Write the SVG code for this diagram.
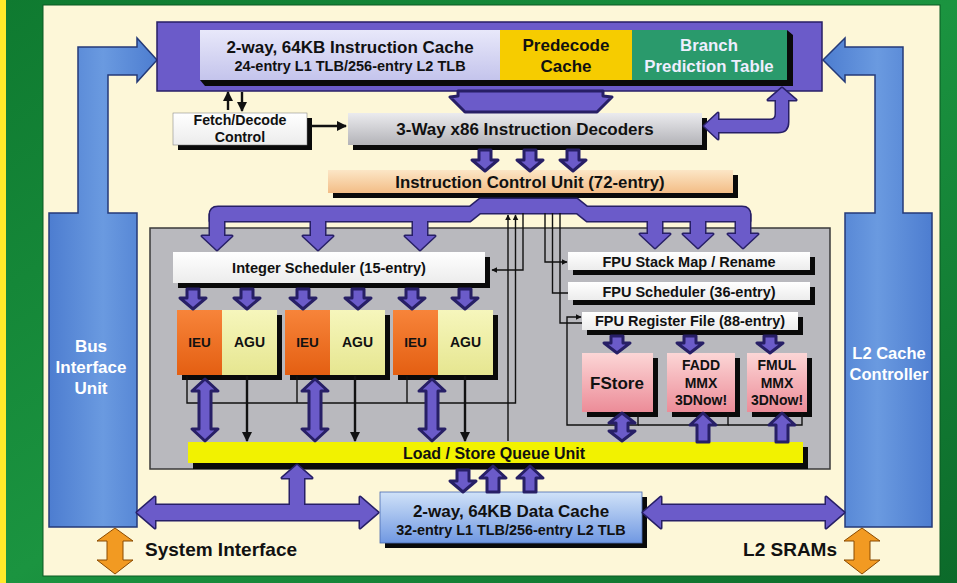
<svg xmlns="http://www.w3.org/2000/svg" xmlns:xlink="http://www.w3.org/1999/xlink" width="957" height="583" viewBox="0 0 957 583">
<defs>
<style>
text{font-family:"Liberation Sans",Arial,sans-serif;font-weight:bold;fill:#111;text-anchor:middle}
.w{fill:#fff}
.sh{fill:#0a0a0a}
.pu{fill:#6b5bc9;stroke:none}
.puo{fill:#6b5bc9;stroke:#271f66;stroke-width:3;stroke-linejoin:round}
.ln{fill:none;stroke:#111;stroke-width:1.4}
.lnb{fill:none;stroke:#111;stroke-width:2.4}
.blue{fill:url(#gBlue);stroke:#243a78;stroke-width:1.5}
.org{fill:#f29a22;stroke:#8a4a00;stroke-width:1}
</style>
<linearGradient id="gBg" x1="0" y1="0" x2="1" y2="1"><stop offset="0" stop-color="#0f7a30"/><stop offset="0.5" stop-color="#1b9440"/><stop offset="1" stop-color="#0c6a2a"/></linearGradient>
<linearGradient id="gIC" x1="0" y1="0" x2="0" y2="1"><stop offset="0" stop-color="#e8e8fa"/><stop offset="1" stop-color="#c4c4ec"/></linearGradient>
<linearGradient id="gDec" x1="0" y1="0" x2="0" y2="1"><stop offset="0" stop-color="#ebebee"/><stop offset="1" stop-color="#b3b3b8"/></linearGradient>
<linearGradient id="gICU" x1="0" y1="0" x2="0" y2="1"><stop offset="0" stop-color="#fce6c6"/><stop offset="1" stop-color="#f3bd86"/></linearGradient>
<linearGradient id="gFPU" x1="0" y1="0" x2="0" y2="1"><stop offset="0" stop-color="#fcd6d6"/><stop offset="1" stop-color="#ec8c98"/></linearGradient>
<linearGradient id="gDC" x1="0" y1="0" x2="0" y2="1"><stop offset="0" stop-color="#d0e2f8"/><stop offset="1" stop-color="#7098e2"/></linearGradient>
<linearGradient id="gBlue" x1="0" y1="0" x2="1" y2="0"><stop offset="0" stop-color="#4d7dd0"/><stop offset="0.5" stop-color="#6a9ae0"/><stop offset="1" stop-color="#4d7dd0"/></linearGradient>
<linearGradient id="gIEU" x1="0" y1="0" x2="0" y2="1"><stop offset="0" stop-color="#f7843a"/><stop offset="1" stop-color="#e45f12"/></linearGradient>
<linearGradient id="gAGU" x1="0" y1="0" x2="0" y2="1"><stop offset="0" stop-color="#f6f6bc"/><stop offset="1" stop-color="#e6e690"/></linearGradient>
<linearGradient id="gW" x1="0" y1="0" x2="0" y2="1"><stop offset="0" stop-color="#ffffff"/><stop offset="1" stop-color="#ececec"/></linearGradient>
<marker id="ah" viewBox="0 0 10 10" refX="9" refY="5" markerWidth="6" markerHeight="6" orient="auto" markerUnits="userSpaceOnUse"><path d="M0,0 L10,5 L0,10 Z" fill="#111"/></marker>
<marker id="ahb" viewBox="0 0 10 10" refX="9" refY="5" markerWidth="10" markerHeight="10" orient="auto" markerUnits="userSpaceOnUse"><path d="M0,0 L10,5 L0,10 Z" fill="#111"/></marker>
<g id="icuBus">
<path d="M210,221 L210,215 Q210,207 218,207 L470,207 L480,199 L577,199 L587,207 L742,207 Q750,207 750,215 L750,221 L587,221 L577,213 L480,213 L470,221 Z"/>
<rect x="210" y="214" width="14" height="23"/><polygon points="202,236 232,236 217,250"/>
<rect x="311" y="214" width="14" height="23"/><polygon points="303,236 333,236 318,250"/>
<rect x="413" y="214" width="14" height="23"/><polygon points="405,236 435,236 420,250"/>
<rect x="648" y="214" width="14" height="21"/><polygon points="640,234 670,234 655,248"/>
<rect x="691" y="214" width="14" height="21"/><polygon points="683,234 713,234 698,248"/>
<rect x="736" y="214" width="14" height="21"/><polygon points="728,234 758,234 743,248"/>
</g>
<g id="brBus">
<path d="M717,120 L770,120 Q776,120 776,114 L776,100 L768,100 L782,88 L796,100 L788,100 L788,122 Q788,132 778,132 L717,132 Z"/>
<polygon points="718,113 718,139 704,126"/>
</g>
<g id="btmBus">
<polygon points="137,512.5 155,497 155,505 360,505 360,497 378,512.5 360,528 360,520 155,520 155,528"/>
<rect x="290" y="476" width="14" height="32"/><polygon points="282,478 312,478 297,465"/>
<polygon points="643,512.5 661,497 661,505 826,505 826,497 844,512.5 826,528 826,520 661,520 661,528"/>
</g>
</defs>

<!-- background -->
<rect x="0" y="0" width="957" height="583" fill="url(#gBg)"/>
<rect x="0" y="0" width="6" height="583" fill="#ffea2a"/>
<rect x="43" y="5" width="897" height="571" fill="#fdf7d8" stroke="#0a5a22" stroke-width="1"/>

<!-- Bus Interface Unit -->
<g id="biu">
<path class="blue" d="M49,213 L78,213 L78,47 L137,47 L137,38 L157,60 L137,82 L137,75 L108,75 L108,213 L137,213 L137,527 L49,527 Z"/>
<text class="w" x="91" y="352" font-size="17">Bus</text>
<text class="w" x="91" y="373" font-size="17">Interface</text>
<text class="w" x="91" y="394" font-size="17">Unit</text>
</g>

<!-- L2 Cache Controller -->
<g id="l2cc">
<path class="blue" d="M932,213 L903,213 L903,47 L845,47 L845,38 L823,60 L845,82 L845,75 L875,75 L875,213 L845,213 L845,527 L932,527 Z"/>
<text class="w" x="889" y="359" font-size="16.5">L2 Cache</text>
<text class="w" x="889" y="380" font-size="16.5">Controller</text>
</g>

<!-- top cache block -->
<g id="icache">
<rect x="157" y="22" width="665" height="69" fill="#6b5bc9" stroke="#271f66" stroke-width="1.5"/>
<polygon class="sh" points="787,30 793,35 793,86 205,86 200,80 787,80"/>
<rect x="200" y="30" width="300" height="50" fill="url(#gIC)"/>
<text x="350" y="53" font-size="17">2-way, 64KB Instruction Cache</text>
<text x="350" y="71" font-size="14.5">24-entry L1 TLB/256-entry L2 TLB</text>
</g>
<g id="predecode">
<rect x="500" y="30" width="132" height="50" fill="#f6cc00"/>
<text x="566" y="51" font-size="17">Predecode</text>
<text x="566" y="72" font-size="17">Cache</text>
</g>
<g id="branch">
<rect x="632" y="30" width="155" height="50" fill="#2a9a6c"/>
<text class="w" x="709" y="51" font-size="16.8" style="fill:#eef">Branch</text>
<text class="w" x="709" y="72" font-size="16.8" style="fill:#eef">Prediction Table</text>
</g>

<!-- gray core -->
<rect id="core" x="150" y="228" width="680" height="241" fill="#b9b9be" stroke="#3a3a3a" stroke-width="1.5"/>

<!-- Fetch/Decode -->
<g id="fetch">
<rect class="sh" x="178" y="118" width="134" height="32"/>
<rect x="173" y="113" width="134" height="32" fill="url(#gW)" stroke="#777" stroke-width="0.5"/>
<text x="240" y="125" font-size="14.2">Fetch/Decode</text>
<text x="240" y="142" font-size="14.2">Control</text>
</g>

<!-- Decoders -->
<g id="decoders">
<rect class="sh" x="353" y="118" width="354" height="32"/>
<rect x="348" y="113" width="354" height="32" fill="url(#gDec)"/>
<text x="525" y="135" font-size="17">3-Way x86 Instruction Decoders</text>
</g>

<!-- ICU -->
<g id="icu">
<rect class="sh" x="333" y="175" width="405" height="23"/>
<rect x="328" y="170" width="405" height="23" fill="url(#gICU)"/>
<text x="530" y="188" font-size="16.8">Instruction Control Unit (72-entry)</text>
</g>

<!-- Integer scheduler -->
<g id="intsched">
<rect class="sh" x="178" y="257" width="312" height="31"/>
<rect x="173" y="252" width="312" height="31" fill="url(#gW)"/>
<text x="329" y="273" font-size="14.6">Integer Scheduler (15-entry)</text>
</g>

<!-- IEU/AGU -->
<g id="ieu1"><rect class="sh" x="182" y="315" width="100" height="65"/><rect x="177" y="310" width="45" height="65" fill="url(#gIEU)"/><text x="199.5" y="347" font-size="13.5">IEU</text></g>
<g id="agu1"><rect x="222" y="310" width="55" height="65" fill="url(#gAGU)"/><text x="249.5" y="347" font-size="14">AGU</text></g>
<g id="ieu2"><rect class="sh" x="290" y="315" width="100" height="65"/><rect x="285" y="310" width="45" height="65" fill="url(#gIEU)"/><text x="307.5" y="347" font-size="13.5">IEU</text></g>
<g id="agu2"><rect x="330" y="310" width="55" height="65" fill="url(#gAGU)"/><text x="357.5" y="347" font-size="14">AGU</text></g>
<g id="ieu3"><rect class="sh" x="398" y="315" width="100" height="65"/><rect x="393" y="310" width="45" height="65" fill="url(#gIEU)"/><text x="415.5" y="347" font-size="13.5">IEU</text></g>
<g id="agu3"><rect x="438" y="310" width="55" height="65" fill="url(#gAGU)"/><text x="465.5" y="347" font-size="14">AGU</text></g>

<!-- FPU -->
<g id="fpustack">
<rect class="sh" x="573" y="257" width="242" height="18"/>
<rect x="568" y="252" width="242" height="18" fill="url(#gW)"/>
<text x="689" y="266.5" font-size="14.5">FPU Stack Map / Rename</text>
</g>
<g id="fpusched">
<rect class="sh" x="573" y="287" width="242" height="18"/>
<rect x="568" y="282" width="242" height="18" fill="url(#gW)"/>
<text x="689" y="296.5" font-size="14.5">FPU Scheduler (36-entry)</text>
</g>
<g id="fpureg">
<rect class="sh" x="587" y="317" width="216" height="18"/>
<rect x="582" y="312" width="216" height="18" fill="url(#gW)"/>
<text x="690" y="326" font-size="14.5">FPU Register File (88-entry)</text>
</g>
<g id="fstore">
<rect class="sh" x="587" y="358" width="71" height="59"/>
<rect x="582" y="353" width="71" height="59" fill="url(#gFPU)"/>
<text x="617" y="389" font-size="17">FStore</text>
</g>
<g id="fadd">
<rect class="sh" x="672" y="358" width="68" height="59"/>
<rect x="667" y="353" width="68" height="59" fill="url(#gFPU)"/>
<text x="701" y="370" font-size="14">FADD</text>
<text x="701" y="388" font-size="14">MMX</text>
<text x="701" y="405" font-size="14">3DNow!</text>
</g>
<g id="fmul">
<rect class="sh" x="752" y="358" width="60" height="59"/>
<rect x="747" y="353" width="60" height="59" fill="url(#gFPU)"/>
<text x="777" y="370" font-size="14">FMUL</text>
<text x="777" y="388" font-size="14">MMX</text>
<text x="777" y="405" font-size="14">3DNow!</text>
</g>

<!-- LSQ -->
<g id="lsq">
<rect class="sh" x="193" y="447" width="615" height="22"/>
<rect x="188" y="442" width="615" height="21" fill="#f2f200"/>
<text x="494" y="458.5" font-size="16">Load / Store Queue Unit</text>
</g>

<!-- Data cache -->
<g id="dcache">
<rect class="sh" x="385" y="497" width="262" height="51"/>
<rect x="380" y="492" width="262" height="51" fill="url(#gDC)" stroke="#4a6ab0" stroke-width="0.8"/>
<text x="511" y="517" font-size="17">2-way, 64KB Data Cache</text>
<text x="511" y="534.5" font-size="14.4">32-entry L1 TLB/256-entry L2 TLB</text>
</g>

<!-- interface labels -->
<g id="sysif">
<polygon class="org" points="115,528 133,541 123,541 123,560 133,560 115,574 97,560 107,560 107,541 97,541"/>
<text x="145" y="556" font-size="19" style="text-anchor:start">System Interface</text>
</g>
<g id="l2sram">
<polygon class="org" points="862,528 880,541 870,541 870,560 880,560 862,574 844,560 854,560 854,541 844,541"/>
<text x="837" y="556" font-size="19" style="text-anchor:end">L2 SRAMs</text>
</g>

<!-- connectors -->
<g id="connectors">
<!-- purple from icache to decoders -->
<polygon class="puo" points="458,91 603,91 603,96 612,97 597,112 465,112 450,97 458,96"/>
<!-- decoders to ICU -->
<g class="puo">
<path d="M479,150 L491,150 L491,160 L498,160 L485,171 L472,160 L479,160 Z"/>
<path d="M524,150 L536,150 L536,160 L543,160 L530,171 L517,160 L524,160 Z"/>
<path d="M567,150 L579,150 L579,160 L586,160 L573,171 L560,160 L567,160 Z"/>
</g>
<!-- decoders to branch -->
<use xlink:href="#brBus" href="#brBus" class="puo"/>
<use xlink:href="#brBus" href="#brBus" class="pu"/>
<!-- ICU bus -->
<use xlink:href="#icuBus" href="#icuBus" class="puo"/>
<use xlink:href="#icuBus" href="#icuBus" class="pu"/>
<!-- scheduler to units -->
<g class="puo">
<path d="M187,289 L199,289 L199,298 L206,298 L193,309 L180,298 L187,298 Z"/>
<path d="M241,289 L253,289 L253,298 L260,298 L247,309 L234,298 L241,298 Z"/>
<path d="M297,289 L309,289 L309,298 L316,298 L303,309 L290,298 L297,298 Z"/>
<path d="M352,289 L364,289 L364,298 L371,298 L358,309 L345,298 L352,298 Z"/>
<path d="M406,289 L418,289 L418,298 L425,298 L412,309 L399,298 L406,298 Z"/>
<path d="M459,289 L471,289 L471,298 L478,298 L465,309 L452,298 L459,298 Z"/>
<!-- fpu reg to units -->
<path d="M611,336 L623,336 L623,343 L630,343 L617,353 L604,343 L611,343 Z"/>
<path d="M684,336 L696,336 L696,343 L703,343 L690,353 L677,343 L684,343 Z"/>
<path d="M764,336 L776,336 L776,343 L783,343 L770,353 L757,343 L764,343 Z"/>
</g>
<!-- thin black control lines -->
<polyline class="ln" points="508,441 508,215" marker-end="url(#ah)"/>
<polyline class="ln" points="187,376 187,403 515.5,403 515.5,215" marker-end="url(#ah)"/>
<line class="ln" x1="297" y1="376" x2="297" y2="403"/>
<line class="ln" x1="407" y1="376" x2="407" y2="403"/>
<polyline class="ln" points="523,213 523,270 492,270" marker-end="url(#ah)"/>
<polyline class="ln" points="545,213 545,262 567,262" marker-end="url(#ah)"/>
<polyline class="ln" points="552.5,213 552.5,293 568,293"/>
<polyline class="ln" points="560,213 560,323 582,323"/>
<polyline class="ln" points="638,413 638,425 567,425 567,317 581,317" marker-end="url(#ah)"/>
<polyline class="ln" points="728,413 728,425 638,425"/>
<polyline class="ln" points="802,413 802,425 728,425"/>
<!-- AGU to LSQ -->
<line class="lnb" x1="247" y1="376" x2="247" y2="441" marker-end="url(#ahb)"/>
<line class="lnb" x1="355" y1="376" x2="355" y2="441" marker-end="url(#ahb)"/>
<line class="lnb" x1="465" y1="376" x2="465" y2="441" marker-end="url(#ahb)"/>
<!-- fetch control arrows -->
<line class="lnb" x1="228" y1="110" x2="228" y2="92" stroke-width="3" marker-end="url(#ahb)"/>
<line class="lnb" x1="242" y1="92" x2="242" y2="111" stroke-width="3" marker-end="url(#ahb)"/>
<line class="lnb" x1="311" y1="126" x2="346" y2="126" stroke-width="3" marker-end="url(#ahb)"/>
<!-- IEU <-> LSQ double arrows -->
<g class="puo">
<path d="M205,379 L218,391 L211,391 L211,429 L218,429 L205,441 L192,429 L199,429 L199,391 L192,391 Z"/>
<path d="M315,379 L328,391 L321,391 L321,429 L328,429 L315,441 L302,429 L309,429 L309,391 L302,391 Z"/>
<path d="M432,379 L445,391 L438,391 L438,429 L445,429 L432,441 L419,429 L426,429 L426,391 L419,391 Z"/>
<!-- FPU units <-> LSQ -->
<path d="M622,413 L635,423 L628,423 L628,431 L635,431 L622,441 L609,431 L616,431 L616,423 L609,423 Z"/>
<path d="M703,413 L716,425 L709,425 L709,442 L697,442 L697,425 L690,425 Z"/>
<path d="M782,413 L795,425 L788,425 L788,442 L776,442 L776,425 L769,425 Z"/>
<!-- LSQ <-> data cache -->
<path d="M457,470 L469,470 L469,481 L476,481 L463,492 L450,481 L457,481 Z"/>
<path d="M493,466 L506,478 L499,478 L499,492 L487,492 L487,478 L480,478 Z"/>
<path d="M530,466 L543,478 L536,478 L536,492 L524,492 L524,478 L517,478 Z"/>
</g>
<!-- bottom buses -->
<use xlink:href="#btmBus" href="#btmBus" class="puo"/>
<use xlink:href="#btmBus" href="#btmBus" class="pu"/>
</g>
</svg>
